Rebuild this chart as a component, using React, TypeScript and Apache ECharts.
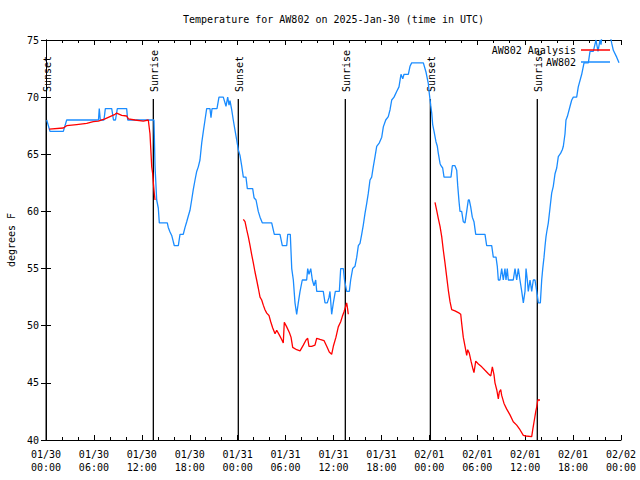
import React, { useEffect, useRef } from "react";
import * as echarts from "echarts";

// Hours since 2025-01-30 00:00 UTC
const blueHours = [
  0.09, 0.5, 2.17, 2.59, 6.57, 6.67, 6.8, 7.26, 7.43, 8.23, 8.45, 8.7, 8.93, 10.1, 10.23, 13.52, 13.65, 13.86,
  14.06, 14.19, 15.19, 15.31, 15.53, 15.74, 15.94, 16.07, 16.57, 16.78, 17.19, 17.41, 17.62, 17.82, 18.03,
  18.24, 18.44, 18.66, 18.87, 19.07, 19.28, 19.5, 19.7, 19.91, 20.12, 20.53, 20.66, 20.79, 21.41, 21.66,
  22.2, 22.54, 22.75, 22.92, 23.04, 23.25, 23.45, 23.67, 23.88, 24.08, 24.29, 24.5, 24.71, 25.04, 25.21,
  25.88, 26.05, 26.3, 26.58, 26.8, 27.08, 28.26, 28.59, 29.3, 29.59, 30.14, 30.27, 30.59, 30.77, 30.97,
  31.18, 31.39, 31.59, 31.81, 32.09, 32.64, 32.77, 32.93, 33.15, 33.35, 33.56, 33.77, 33.9, 34.72, 34.94,
  35.22, 35.44, 35.56, 35.77, 35.98, 36.23, 36.73, 36.9, 37.23, 37.38, 37.65, 37.98, 38.15, 38.4, 38.69,
  38.91, 39.11, 39.32, 39.53, 39.73, 39.94, 40.16, 40.36, 40.57, 40.78, 40.98, 41.2, 41.41, 41.74, 42.04,
  42.24, 42.54, 42.86, 43.08, 43.29, 43.58, 43.91, 44.2, 44.45, 44.67, 44.83, 45.37, 45.58, 45.79, 47.25,
  47.58, 47.87, 48.0, 48.17, 48.3, 48.42, 48.59, 48.83, 49.0, 49.12, 49.34, 49.46, 49.67, 49.84, 50.71,
  50.88, 51.21, 51.43, 51.55, 51.72, 51.84, 52.05, 52.25, 52.47, 52.68, 52.88, 53.0, 53.18, 53.38, 53.59,
  53.81, 54.97, 55.18, 55.81, 56.01, 56.35, 56.51, 56.64, 56.85, 57.06, 57.26, 57.47, 57.6, 57.76, 57.89,
  58.51, 58.73, 58.94, 59.14, 59.35, 59.57, 59.77, 59.98, 60.11, 60.27, 60.39, 60.61, 60.82, 61.02, 61.23,
  61.45, 61.65, 61.9, 62.07, 62.2, 62.36, 62.49, 62.61, 62.7, 62.9, 63.11, 63.32, 63.52, 63.74, 63.95,
  64.15, 64.45, 64.65, 64.78, 64.99, 65.11, 65.28, 65.62, 65.83, 66.03, 66.45, 66.65, 67.08, 67.37, 67.91,
  68.12, 68.53, 68.87, 69.12, 69.37, 69.5, 69.62, 70.62, 70.84, 71.04, 71.46, 71.75,
];
const blueTemps = [
  68, 67, 67, 68, 68, 69, 68, 68, 69, 69, 68, 68, 69, 69, 68, 68, 64, 61,
  60.3, 59, 59, 58.6, 58.2, 57.9, 57.35, 57, 57, 58, 58, 58.6, 59.1, 59.6, 60.1,
  61, 61.9, 62.75, 63.5, 63.9, 64.5, 66, 67, 68, 69, 69, 68.2, 69, 69, 70,
  70, 69.2, 70, 69.3, 69.7, 68.9, 68, 67.1, 66.25, 65.4, 64.9, 64, 63, 63, 62,
  62, 61.2, 61, 60, 59.5, 59, 59, 58, 58, 57, 57, 58, 58, 55, 54,
  52, 51, 52, 53, 54, 54, 55, 54.5, 55, 54, 53.5, 54, 53, 53, 52,
  52, 52.5, 53, 51, 52, 53, 53, 55, 55, 54, 53, 53, 54, 55, 55.2,
  56, 57, 57.2, 58, 58.8, 59.8, 60.7, 61.6, 62.75, 63, 63.9, 64.8, 65.7, 66, 66.5,
  67.4, 68, 68.3, 68.9, 69.75, 70, 70.5, 70.9, 72, 71.6, 72, 72, 72.7, 73, 73,
  72.2, 71.2, 70.3, 69.3, 68.6, 67.6, 67, 66.1, 65.7, 65.1, 64.2, 64, 63.8, 63, 63,
  64, 64, 63.6, 62.3, 60.85, 60, 60, 59.1, 59, 60, 61, 61, 60.4, 59.5, 59.1,
  58, 58, 57, 57, 56, 56, 55.2, 54, 54, 55, 54, 55, 54, 55, 54,
  54, 55, 54, 55, 54, 53, 52, 53, 55, 54, 53, 54, 53, 54, 54,
  53, 52, 52, 54, 55, 56, 57, 57.8, 58.2, 59, 60.3, 61.6, 62.2, 63.3, 63.8,
  64.8, 65.1, 65.4, 65.7, 66.8, 68, 68.3, 69.2, 69.75, 70, 70, 70.9, 72, 73, 73,
  74, 74, 75, 74, 75, 74.6, 75.5, 75.5, 74.7, 74.1, 73.5, 73,
];

const redHours1 = [0.41, 2.17, 2.59, 3.84, 5.1, 5.92, 6.55, 7.39, 8.01, 8.64, 8.85, 9.48, 10.1, 10.31, 11.14, 12.18, 12.81, 13.02, 13.24, 13.36, 13.44, 13.57, 13.65];
const redTemps1 = [67.2, 67.3, 67.5, 67.6, 67.7, 67.85, 67.9, 68.1, 68.3, 68.5, 68.6, 68.4, 68.35, 68.1, 68.0, 67.9, 68.0, 66.8, 63.9, 63.3, 62.5, 61.5, 61.0];

const redHours2 = [
  24.71, 24.92, 25.13, 25.33, 25.54, 25.76, 25.96, 26.17, 26.38, 26.58, 26.8, 27.01, 27.21, 27.42, 27.64,
  27.92, 28.14, 28.39, 28.68, 28.89, 29.21, 29.51, 29.71, 29.84, 30.14, 30.47, 30.68, 30.89, 31.39, 31.81,
  32.22, 32.56, 32.77, 32.93, 33.27, 33.68, 33.9, 34.31, 34.81, 35.15, 35.47, 35.77, 35.98, 36.31, 36.6,
  36.9, 37.1, 37.31, 37.53, 37.65, 37.78, 37.85,
];
const redTemps2 = [
  59.3, 59.1, 58.4, 57.8, 57.06, 56.2, 55.5, 54.7, 54.0, 53.3, 52.5, 52.25, 51.8, 51.4, 51.1,
  50.9, 50.35, 49.8, 49.3, 49.6, 49.2, 48.8, 48.5, 50.3, 49.9, 49.4, 49.0, 48.1, 47.9, 47.8,
  48.3, 48.75, 48.9, 48.2, 48.2, 48.3, 48.9, 48.8, 48.7, 48.2, 47.7, 47.5, 48.2, 49.0, 49.9,
  50.35, 50.8, 51.2, 51.7, 52.0, 51.4, 51.0,
];

const redHours3 = [
  48.71, 48.92, 49.12, 49.34, 49.55, 49.75, 49.96, 50.17, 50.38, 50.59, 50.8, 51.21, 51.75, 51.93, 52.05,
  52.25, 52.47, 52.68, 52.8, 53.0, 53.22, 53.43, 53.59, 53.81, 54.14, 54.56, 54.97, 55.39, 55.69, 55.89,
  56.1, 56.22, 56.44, 56.64, 56.76, 56.94, 57.06, 57.35, 57.69, 58.1, 58.51, 58.94, 59.35, 59.77, 60.11,
  60.82, 60.95, 61.15, 61.33, 61.45, 61.58, 61.86,
];
const redTemps3 = [
  60.8, 60.1, 59.4, 58.7, 57.8, 56.6, 55.5, 54.3, 53.1, 52.1, 51.4, 51.3, 51.1, 51.0, 50.2,
  49.0, 48.2, 47.4, 47.9, 47.6, 46.9, 46.3, 45.9, 46.9, 46.65, 46.4, 46.1, 45.8, 45.6, 46.4,
  45.7, 45.0, 44.4, 43.6, 44.2, 44.4, 43.9, 43.2, 42.7, 42.2, 41.6, 41.3, 40.9, 40.4, 40.35,
  40.3, 40.9, 41.75, 42.5, 42.9, 43.5, 43.5,
];

const sunHours = [0.02, 13.44, 24.08, 37.48, 48.13, 61.52];
const sunNames = ["Sunset", "Sunrise", "Sunset", "Sunrise", "Sunset", "Sunrise"];
const sunLineTop = 69.84;
const sunLabelAt = 70.45;

const xTickLabels = [
  "01/30\n00:00", "01/30\n06:00", "01/30\n12:00", "01/30\n18:00",
  "01/31\n00:00", "01/31\n06:00", "01/31\n12:00", "01/31\n18:00",
  "02/01\n00:00", "02/01\n06:00", "02/01\n12:00", "02/01\n18:00",
  "02/02\n00:00",
];

const FONT = "DejaVu Sans Mono";
const BLUE = "#1a8cff";
const RED = "#ff0000";

export default function App() {
  const ref = useRef<HTMLDivElement>(null);
  useEffect(() => {
    if (!ref.current) return;
    const chart = echarts.init(ref.current, undefined, { renderer: "svg" });

    const blueData = blueHours.map((h, i) => [h, blueTemps[i]]);
    const seg = (hs: number[], ts: number[]) => hs.map((h, i) => [h, ts[i]]);
    const redData: any[] = [
      ...seg(redHours1, redTemps1),
      [redHours1[redHours1.length - 1] + 0.05, null],
      ...seg(redHours2, redTemps2),
      [redHours2[redHours2.length - 1] + 0.05, null],
      ...seg(redHours3, redTemps3),
    ];

    const textStyle = { fontFamily: FONT, fontSize: 10, color: "#000" };
    const axisLine = { show: true, lineStyle: { color: "#000", width: 1 } };

    chart.setOption({
      animation: false,
      backgroundColor: "#fff",
      textStyle: { fontFamily: FONT },
      title: {
        text: "Temperature for AW802 on 2025-Jan-30 (time in UTC)",
        left: 183,
        top: 14,
        padding: 0,
        textStyle: { ...textStyle, fontWeight: "normal" },
      },
      legend: [
        {
          data: ["AW802 Analysis"],
          right: 30,
          top: 45,
          padding: 0,
          align: "right",
          icon: "rect",
          itemWidth: 29,
          itemHeight: 1.5,
          selectedMode: false,
          textStyle: { ...textStyle },
        },
        {
          data: ["AW802"],
          right: 30,
          top: 57,
          padding: 0,
          align: "right",
          icon: "rect",
          itemWidth: 29,
          itemHeight: 1.5,
          selectedMode: false,
          textStyle: { ...textStyle },
        },
      ],
      grid: {
        left: 46,
        right: 19,
        top: 40,
        bottom: 40,
        containLabel: false,
        outerBoundsMode: "none",
      },
      xAxis: [
        {
          type: "value",
          min: 0,
          max: 72,
          interval: 6,
          axisLine,
          splitLine: { show: false },
          axisTick: { show: true, inside: true, length: 5, lineStyle: { color: "#000" } },
          minorTick: { show: true, splitNumber: 3, length: 3, lineStyle: { color: "#000" } },
          axisLabel: {
            ...textStyle,
            margin: 8,
            lineHeight: 13,
            formatter: (v: number) => xTickLabels[Math.round(v / 6)] ?? "",
          },
        },
        {
          type: "value",
          position: "top",
          min: 0,
          max: 72,
          interval: 6,
          axisLine,
          splitLine: { show: false },
          axisTick: { show: true, inside: true, length: 5, lineStyle: { color: "#000" } },
          minorTick: { show: true, splitNumber: 3, length: 3, lineStyle: { color: "#000" } },
          axisLabel: { show: false },
        },
      ],
      yAxis: [
        {
          type: "value",
          min: 40,
          max: 75,
          interval: 5,
          name: "degrees F",
          nameLocation: "middle",
          nameGap: 30,
          nameTextStyle: { ...textStyle },
          axisLine,
          splitLine: { show: false },
          axisTick: { show: true, inside: true, length: 5, lineStyle: { color: "#000" } },
          axisLabel: { ...textStyle, margin: 7 },
        },
        {
          type: "value",
          position: "right",
          min: 40,
          max: 75,
          interval: 5,
          axisLine,
          splitLine: { show: false },
          axisTick: { show: true, inside: true, length: 5, lineStyle: { color: "#000" } },
          axisLabel: { show: false },
        },
      ],
      series: [
        {
          type: "custom",
          name: "sun",
          xAxisIndex: 0,
          yAxisIndex: 0,
          z: 1,
          clip: false,
          data: sunHours.map((h) => [h]),
          renderItem: (params: any, api: any) => {
            const h = api.value(0);
            const p0 = api.coord([h, 40]);
            const p1 = api.coord([h, sunLineTop]);
            const pl = api.coord([h, sunLabelAt]);
            return {
              type: "group",
              children: [
                {
                  type: "line",
                  shape: { x1: p0[0], y1: p0[1], x2: p1[0], y2: p1[1] },
                  style: { stroke: "#000", lineWidth: 1.3 },
                },
                {
                  type: "text",
                  x: pl[0] + 1,
                  y: pl[1],
                  rotation: Math.PI / 2,
                  style: {
                    text: sunNames[params.dataIndex],
                    fill: "#000",
                    font: `10px '${FONT}'`,
                    align: "left",
                    verticalAlign: "middle",
                  },
                },
              ],
            };
          },
        },
        {
          type: "line",
          name: "AW802",
          data: blueData,
          symbol: "none",
          showSymbol: false,
          z: 2,
          lineStyle: { color: BLUE, width: 1.3 },
          itemStyle: { color: BLUE },
        },
        {
          type: "line",
          name: "AW802 Analysis",
          data: redData,
          connectNulls: false,
          symbol: "none",
          showSymbol: false,
          z: 3,
          lineStyle: { color: RED, width: 1.3 },
          itemStyle: { color: RED },
        },
      ],
    });
    return () => chart.dispose();
  }, []);
  return (
    <div
      ref={ref}
      style={{ position: "fixed", left: 0, top: 0, width: 640, height: 480, background: "#fff" }}
    />
  );
}
